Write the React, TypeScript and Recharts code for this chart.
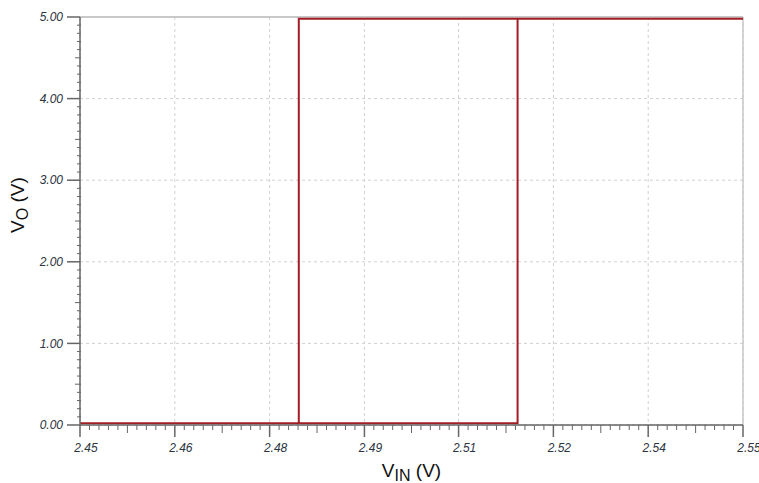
import {
  LineChart,
  Line,
  XAxis,
  YAxis,
  CartesianGrid,
  ReferenceLine,
} from 'recharts';

// Hysteresis trace: rising edge at ~2.516 V, falling edge at ~2.483 V
const vin = [2.45, 2.516, 2.516, 2.55, 2.483, 2.483, 2.45];
const vo = [0.02, 0.02, 4.98, 4.98, 4.98, 0.02, 0.02];

const xMajorTicks = [2.45, 2.4643, 2.4786, 2.4929, 2.5071, 2.5214, 2.5357, 2.55];
const yMajorTicks = [0, 1, 2, 3, 4, 5];

const data = vin.map((x, i) => ({ vin: x, vo: vo[i] }));

// minor ticks: 10 subdivisions between each pair of majors, the 5th one a bit longer
function subTicks(major: number[]) {
  const out: number[] = [];
  for (let i = 0; i < major.length - 1; i++) {
    const a = major[i];
    const b = major[i + 1];
    for (let j = 1; j < 10; j++) out.push(a + ((b - a) * j) / 10);
  }
  return out;
}

const xMinor = subTicks(xMajorTicks);
const yMinor = subTicks(yMajorTicks);

const labelColor = '#2b3440';
const axisColor = '#666';
const font = '"Liberation Sans", Arial, sans-serif';

const XTick = (props: any) => {
  const { x, y, payload } = props;
  return (
    <text
      x={x + 6}
      y={y + 13}
      textAnchor="middle"
      fontSize={12}
      fontStyle="italic"
      fontFamily={font}
      fill={labelColor}
    >
      {Number(payload.value).toFixed(2)}
    </text>
  );
};

const YTick = (props: any) => {
  const { x, y, payload } = props;
  return (
    <text
      x={x}
      y={y}
      dy="0.35em"
      textAnchor="end"
      fontSize={12}
      fontStyle="italic"
      fontFamily={font}
      fill={labelColor}
    >
      {Number(payload.value).toFixed(2)}
    </text>
  );
};

// small tick marks drawn from the axis line outward
const XMinorTick = (props: any) => {
  const { x, y, index } = props;
  const len = index % 9 === 4 ? 8 : 5;
  return <line x1={x} x2={x} y1={y} y2={y + len} stroke={axisColor} strokeWidth={1} />;
};

const YMinorTick = (props: any) => {
  const { x, y, index } = props;
  const len = index % 9 === 4 ? 5 : 3;
  return <line x1={x - len} x2={x + 1} y1={y} y2={y} stroke={axisColor} strokeWidth={1} />;
};

export default function App() {
  return (
    <div style={{ position: 'absolute', left: 0, top: 0, width: 759, height: 483, background: 'white' }}>
      <LineChart
        width={759}
        height={483}
        data={data}
        margin={{ top: 17, right: 16, bottom: 0, left: 0 }}
      >
        <CartesianGrid stroke="#d0d0d0" strokeDasharray="3 3" />
        <XAxis
          dataKey="vin"
          type="number"
          domain={[2.45, 2.55]}
          allowDataOverflow
          ticks={xMajorTicks}
          interval={0}
          height={58}
          tickSize={12}
          tickMargin={2}
          tick={<XTick />}
          stroke={axisColor}
          strokeWidth={1.5}
          label={{
            position: 'insideBottom',
            content: (p: any) => {
              const vb = p.viewBox;
              return (
                <text
                  x={vb.x + vb.width / 2}
                  y={vb.y + vb.height - 6}
                  textAnchor="middle"
                  fontSize={19}
                  fontFamily={font}
                  fill="#111"
                >
                  V<tspan dy={4} fontSize={16}>IN</tspan>
                  <tspan dy={-4}> (V)</tspan>
                </text>
              );
            },
          }}
        />
        <XAxis
          xAxisId="minor"
          dataKey="vin"
          type="number"
          domain={[2.45, 2.55]}
          allowDataOverflow
          ticks={xMinor}
          interval={0}
          mirror
          height={1}
          tickSize={0}
          tickMargin={0}
          tickLine={false}
          tick={<XMinorTick />}
          axisLine={false}
        />
        <YAxis
          type="number"
          domain={[0, 5]}
          allowDataOverflow
          ticks={yMajorTicks}
          interval={0}
          width={80}
          tickSize={13}
          tickMargin={4}
          tick={<YTick />}
          stroke={axisColor}
          strokeWidth={1.5}
          label={{
            position: 'insideLeft',
            content: (p: any) => {
              const vb = p.viewBox;
              const cx = 24;
              const cy = vb.y + vb.height / 2 - 16;
              return (
                <text
                  x={cx}
                  y={cy}
                  transform={`rotate(-90, ${cx}, ${cy})`}
                  textAnchor="middle"
                  fontSize={19}
                  fontFamily={font}
                  fill="#111"
                >
                  V<tspan dy={4} fontSize={16}>O</tspan>
                  <tspan dy={-4}> (V)</tspan>
                </text>
              );
            },
          }}
        />
        <YAxis
          yAxisId="minor"
          type="number"
          domain={[0, 5]}
          allowDataOverflow
          ticks={yMinor}
          interval={0}
          mirror
          width={1}
          tickSize={0}
          tickMargin={0}
          tickLine={false}
          tick={<YMinorTick />}
          axisLine={false}
        />
        <ReferenceLine y={5} stroke="#c8c8c8" strokeWidth={2} />
        <ReferenceLine x={2.55} stroke="#c8c8c8" strokeWidth={1.5} />
        {/* invisible copy bound to the minor-tick axes so they get a scale */}
        <Line
          xAxisId="minor"
          yAxisId="minor"
          dataKey="vo"
          type="linear"
          stroke="none"
          dot={false}
          activeDot={false}
          isAnimationActive={false}
        />
        <Line
          dataKey="vo"
          type="linear"
          stroke="#a31d24"
          strokeWidth={2}
          dot={false}
          isAnimationActive={false}
        />
      </LineChart>
    </div>
  );
}
